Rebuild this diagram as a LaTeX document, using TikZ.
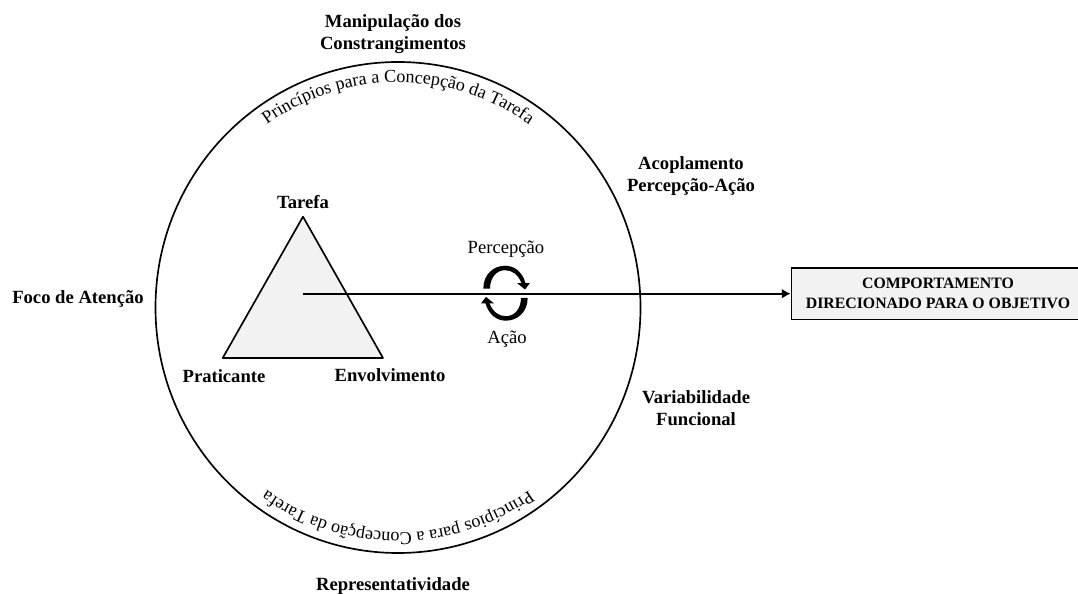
\documentclass[tikz,border=0pt]{standalone}
\usepackage{fontspec}
\setmainfont{Liberation Serif}
\usepackage{tkz-euclide}
\usetikzlibrary{decorations.text,arrows.meta}
\newcommand{\curvefont}{\fontsize{10.3}{12}\selectfont}
\definecolor{cinzento}{HTML}{F2F2F2}
\tikzset{
  traco/.style={line width=.95pt},
  rotulo/.style={font=\fontsize{10.6}{12.5}\selectfont\bfseries,align=center,inner sep=0pt},
  simples/.style={font=\fontsize{10.6}{12.5}\selectfont,inner sep=0pt},
  caixa/.style={draw,traco,fill=cinzento,align=center,inner sep=0pt,
    minimum width=166.7pt,minimum height=29.5pt,
    font=\fontsize{9}{11.3}\selectfont\bfseries},
  curvo/.style={decorate,decoration={text along path,text align=center,text={|\curvefont|#1}}}
}
\begin{document}
\begin{tikzpicture}[scale=2.0]
    % 初始化
    \tkzInit[xmin=0,xmax=10.78, ymin=0,ymax=5.93] \tkzClip
    % 定义圆心、三角形顶点
    \tkzDefPoints{3.98/2.855/O, 3.03/3.763/T, 2.227/2.35/P, 3.83/2.35/E}
    % 定义箭头起点、循环箭头中心
    \tkzDefPoints{3.03/2.993/S, 5.055/2.998/K}
    % 绘制三角形
    \tkzDrawPolygon[traco,fill=cinzento](P,E,T)
    % 绘制大圆
    \draw[traco] (O) ellipse[x radius=2.425,y radius=2.455];
    % 圆内弧形文字
    \path[curvo={Princípios para a Concepção da Tarefa}] (O) ++(170:2.25) arc[start angle=170,end angle=10,radius=2.25];
    \path[curvo={Princípios para a Concepção da Tarefa}] (O) ++(350:2.25) arc[start angle=350,end angle=190,radius=2.25];
    % 右侧方框
    \node[caixa] (comp) at (9.38,2.993) {COMPORTAMENTO\\DIRECIONADO PARA O OBJETIVO};
    % 绘制箭头
    \draw[traco,-{Latex[length=5pt,width=5.5pt]}] (S) -- (comp);
    % 标记三角形顶点
    \node[rotulo] (tarefa) at (3.03,3.91) {Tarefa};
    \node[rotulo] (praticante) at (2.24,2.17) {Praticante};
    \node[rotulo] (envolvimento) at (3.90,2.18) {Envolvimento};
    % 标记圆外文字
    \node[rotulo] (manipulacao) at (3.93,5.59) {Manipulação dos\\Constrangimentos};
    \node[rotulo] (foco) at (0.78,2.94) {Foco de Atenção};
    \node[rotulo] (acoplamento) at (6.91,4.17) {Acoplamento\\Percepção-Ação};
    \node[rotulo] (variabilidade) at (6.96,1.85) {Variabilidade\\Funcional};
    \node[rotulo] (representatividade) at (3.93,0.07) {Representatividade};
    % 循环箭头及文字
    \node[simples] (percepcao) at (5.06,3.44) {Percepção};
    \node[simples] (acao) at (5.07,2.54) {Ação};
    \foreach \ang in {0,180}{
      \begin{scope}[shift={(K)},rotate=\ang,x=.01cm,y=-.01cm]
        \fill (-22.2,-4.7) .. controls (-22.2,-19.2) and (-11.5,-27.5) .. (-.5,-27.5)
          .. controls (8.5,-27.5) and (16.5,-22) .. (20,-10.2) -- (24.5,-10.2) -- (19.5,-3.7)
          -- (11.5,-10.2) -- (16,-10.2) .. controls (12.5,-19) and (6.5,-23) .. (-.5,-23)
          .. controls (-9.5,-23) and (-15.5,-15) .. (-15.5,-4.7) -- cycle;
      \end{scope}
    }
\end{tikzpicture}
\end{document}
